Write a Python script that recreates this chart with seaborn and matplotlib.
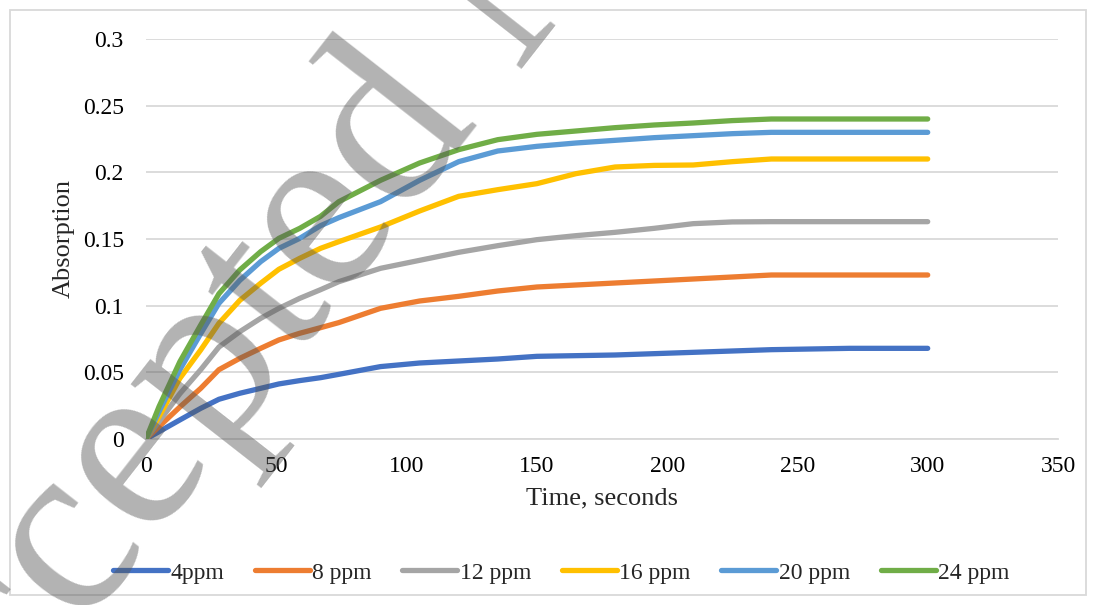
import numpy as np
import pandas as pd
import seaborn as sb
import matplotlib.pyplot as plt
from matplotlib.patches import Rectangle

# time points (seconds) and absorption
time_s = [0, 5, 13, 21, 28, 36, 44, 51, 59, 67, 74, 90, 105, 120, 135, 150, 165, 180, 195, 210, 225, 240, 270, 300]
abs_4ppm = [0, 0.0055, 0.0143, 0.023, 0.0298, 0.0343, 0.038, 0.0413, 0.0438, 0.046, 0.0485, 0.0543, 0.057, 0.0585, 0.060, 0.062, 0.0625, 0.063, 0.064, 0.065, 0.066, 0.067, 0.068, 0.068]
abs_8ppm = [0, 0.0093, 0.024, 0.038, 0.052, 0.0605, 0.068, 0.0743, 0.0793, 0.0835, 0.0873, 0.098, 0.1035, 0.107, 0.111, 0.114, 0.1155, 0.117, 0.1185, 0.120, 0.1215, 0.123, 0.123, 0.123]
abs_12ppm = [0, 0.013, 0.034, 0.052, 0.069, 0.0805, 0.0905, 0.098, 0.1055, 0.112, 0.118, 0.128, 0.134, 0.140, 0.145, 0.1495, 0.1525, 0.155, 0.158, 0.1615, 0.1628, 0.163, 0.163, 0.163]
abs_16ppm = [0, 0.0168, 0.0455, 0.0668, 0.0868, 0.104, 0.1168, 0.1273, 0.1355, 0.143, 0.148, 0.159, 0.171, 0.182, 0.187, 0.1915, 0.199, 0.204, 0.2052, 0.2055, 0.208, 0.210, 0.210, 0.210]
abs_20ppm = [0, 0.0205, 0.052, 0.079, 0.1018, 0.119, 0.133, 0.143, 0.1505, 0.160, 0.166, 0.178, 0.194, 0.208, 0.216, 0.2195, 0.222, 0.224, 0.226, 0.2275, 0.229, 0.230, 0.230, 0.230]
abs_24ppm = [0, 0.0243, 0.058, 0.0855, 0.109, 0.1268, 0.1405, 0.1505, 0.158, 0.167, 0.178, 0.194, 0.207, 0.217, 0.2245, 0.2285, 0.231, 0.2335, 0.2355, 0.237, 0.2388, 0.240, 0.240, 0.240]

series_names = ["4ppm", "8 ppm", "12 ppm", "16 ppm", "20 ppm", "24 ppm"]
series_vals = [abs_4ppm, abs_8ppm, abs_12ppm, abs_16ppm, abs_20ppm, abs_24ppm]
colors = ["#4472C4", "#ED7D31", "#A5A5A5", "#FFC000", "#5B9BD5", "#70AD47"]

xticks = [0, 50, 100, 150, 200, 250, 300, 350]
yticks = [0, 0.05, 0.1, 0.15, 0.2, 0.25, 0.3]
ytick_labels = ["0", "0.05", "0.1", "0.15", "0.2", "0.25", "0.3"]

# long-form frame for seaborn
rows = []
for name, vals in zip(series_names, series_vals):
    for t, v in zip(time_s, vals):
        rows.append((t, v, name))
df = pd.DataFrame(rows, columns=["Time", "Absorption", "Series"])

sb.set_style("white")
plt.rcParams['font.family'] = ['Liberation Serif', 'DejaVu Serif']

fig = plt.figure(figsize=(10.96, 6.05), dpi=100)
ax = fig.add_axes([146 / 1096, 1 - 439 / 605, (1058 - 146) / 1096, 400 / 605])

sb.lineplot(data=df, x="Time", y="Absorption", hue="Series", hue_order=series_names,
            palette=colors, linewidth=3.8, ax=ax, legend=True,
            solid_capstyle="round", solid_joinstyle="round", zorder=3)

ax.set_xlim(0, 350)
ax.set_ylim(0, 0.3)
ax.set_xticks(xticks)
ax.set_yticks(yticks)
ax.set_yticklabels(ytick_labels)
ax.grid(axis="y", color="#D9D9D9", linewidth=1.3, zorder=0)
ax.grid(axis="x", visible=False)
for s in ["top", "right", "left"]:
    ax.spines[s].set_visible(False)
ax.spines["bottom"].set_color("#D9D9D9")
ax.spines["bottom"].set_linewidth(1.3)
ax.tick_params(axis="both", length=0, labelsize=17, colors="black")
ax.tick_params(axis="y", pad=16)
ax.tick_params(axis="x", pad=12)
ax.set_xlabel("Time, seconds", fontsize=19, labelpad=8)
ax.set_ylabel("Absorption", fontsize=19, labelpad=6)

handles, labels = ax.get_legend_handles_labels()
ax.get_legend().remove()
fig.legend(handles, labels, loc="center", bbox_to_anchor=(0.512, 0.053), ncol=6,
           frameon=False, fontsize=17, handlelength=2.33, handletextpad=0.1,
           columnspacing=1.3)

# outer chart border
fig.patches.append(Rectangle((10 / 1096, 10 / 605), 1076 / 1096, 585 / 605,
                             transform=fig.transFigure, fill=False,
                             edgecolor="#D9D9D9", linewidth=1.3))

# watermark
fig.text(-142 / 1096, 1 - 822 / 605, "Accepted Manuscript", fontsize=178, color="#555555",
         alpha=0.45, rotation=52, rotation_mode="anchor", ha="left", va="center",
         zorder=10)

fig.savefig("out.png", dpi=100)
